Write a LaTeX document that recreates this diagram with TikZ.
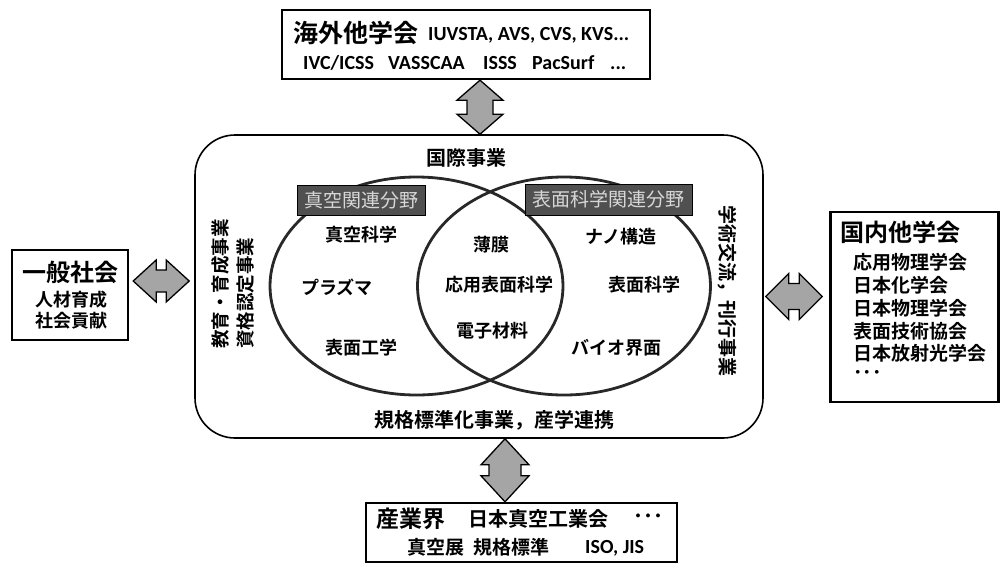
\documentclass[tikz,border=0pt]{standalone}
\usepackage{fontspec}
\setmainfont{Noto Sans CJK JP}[BoldFont={Noto Sans CJK JP Bold}]
\newfontfamily\lat{Carlito}
\usetikzlibrary{calc}
\definecolor{arrowgray}{RGB}{165,165,165}
\definecolor{labelfill}{RGB}{80,80,80}
\definecolor{labeltext}{RGB}{215,215,215}
\definecolor{circline}{RGB}{40,40,40}
\newcommand\blockArrowV[5]{% top, bottom, head half, shaft half, head length
  \draw[blockarrow] let \p1=(#1), \p2=(#2) in
    (\x1,\y1) -- (\x1+#3pt,\y1-#5pt) -- (\x1+#4pt,\y1-#5pt) -- (\x1+#4pt,\y2+#5pt)
    -- (\x1+#3pt,\y2+#5pt) -- (\x1,\y2) -- (\x1-#3pt,\y2+#5pt) -- (\x1-#4pt,\y2+#5pt)
    -- (\x1-#4pt,\y1-#5pt) -- (\x1-#3pt,\y1-#5pt) -- cycle;}
\newcommand\blockArrowH[5]{% left, right, head half, shaft half, head length
  \draw[blockarrow] let \p1=(#1), \p2=(#2) in
    (\x1,\y1) -- (\x1+#5pt,\y1+#3pt) -- (\x1+#5pt,\y1+#4pt) -- (\x2-#5pt,\y1+#4pt)
    -- (\x2-#5pt,\y1+#3pt) -- (\x2,\y1) -- (\x2-#5pt,\y1-#3pt) -- (\x2-#5pt,\y1-#4pt)
    -- (\x1+#5pt,\y1-#4pt) -- (\x1+#5pt,\y1-#3pt) -- cycle;}
\begin{document}
\begin{tikzpicture}[x=1pt,y=-1pt,
  box/.style={draw, line width=2.4pt, fill=white, inner sep=0pt},
  jt/.style={inner sep=0pt, font=\bfseries\fontsize{#1}{#1}\selectfont},
  lt/.style={inner sep=0pt, font=\lat\bfseries\fontsize{#1}{#1}\selectfont},
  fieldlabel/.style={draw=black, line width=0.8pt, fill=labelfill, text=labeltext,
    inner sep=0pt, font=\fontsize{19}{19}\selectfont},
  circ/.style={draw=circline, line width=2.8pt},
  blockarrow/.style={draw=black, line width=1.3pt, fill=arrowgray, line join=miter}]
\useasboundingbox (0,0) rectangle (1001,565);
\fill[white] (0,0) rectangle (1001,565);

% main rounded box
\node[draw, line width=1.6pt, rounded corners=40pt, minimum width=568pt, minimum height=303pt, inner sep=0pt]
  (main) at (479,286.5) {};

% venn circles
\draw[circ] (416.5,286) ellipse [x radius=146.5, y radius=109];
\draw[circ] (564,286) ellipse [x radius=146.5, y radius=109];

\node[fieldlabel, minimum width=128pt, minimum height=30pt] (vaclab) at (361,200) {真空関連分野};
\node[fieldlabel, minimum width=167pt, minimum height=31pt] (surflab) at (608.5,199.5) {表面科学関連分野};

\node[jt=20] (intl) at (466,158) {国際事業};
\node[jt=18] (t1) at (361,235) {真空科学};
\node[jt=18] (t2) at (491,245) {薄膜};
\node[jt=18] (t3) at (621,237) {ナノ構造};
\node[jt=18] (t4) at (337,287) {プラズマ};
\node[jt=18] (t5) at (499,285) {応用表面科学};
\node[jt=18] (t6) at (644,285) {表面科学};
\node[jt=18] (t7) at (492,331) {電子材料};
\node[jt=18] (t8) at (361,348) {表面工学};
\node[jt=18] (t9) at (616,348) {バイオ界面};
\node[jt=20] (std) at (494,420) {規格標準化事業，産学連携};
\node[inner sep=0pt, font=\bfseries\fontsize{18.5}{25}\selectfont, rotate=90, align=left, anchor=west]
  (edu) at (232.5,349) {教育・育成事業\\資格認定事業};
\node[jt=19, rotate=-90] (acad) at (727,291) {学術交流，刊行事業};

% top box
\node[box, minimum width=368pt, minimum height=69pt] (overseas) at (466,44.5) {};
\node[jt=25, anchor=west] (ov1) at (293,33) {海外他学会};
\node[lt=20, anchor=base west] (ov2) at (428,40) {IUVSTA, AVS, CVS, KVS...};
\node[lt=20, anchor=base west] (ov3) at (303,69.5) {IVC/ICSS};
\node[lt=20, anchor=base west] (ov4) at (388,69.5) {VASSCAA};
\node[lt=20, anchor=base west] (ov5) at (483,69.5) {ISSS};
\node[lt=20, anchor=base west] (ov6) at (532,69.5) {PacSurf};
\node[lt=20, anchor=base west] (ov7) at (610,69.5) {...};

% left box
\node[box, minimum width=116pt, minimum height=90pt] (society) at (70,295) {};
\node[jt=24] (so1) at (70,272) {一般社会};
\node[jt=18] (so2) at (71,300) {人材育成};
\node[jt=18] (so3) at (71,321) {社会貢献};

% right box
\node[box, minimum width=168pt, minimum height=190pt] (domestic) at (914.5,307) {};
\node[jt=24, anchor=west] (do0) at (840,232) {国内他学会};
\node[jt=19, anchor=west] (do1) at (853,262) {応用物理学会};
\node[jt=19, anchor=west] (do2) at (853,285) {日本化学会};
\node[jt=19, anchor=west] (do3) at (853,308) {日本物理学会};
\node[jt=19, anchor=west] (do4) at (853,331) {表面技術協会};
\node[jt=19, anchor=west] (do5) at (853,353) {日本放射光学会};
\node[jt=19, anchor=west] (do6) at (853,375) {･･･};

% bottom box
\node[box, minimum width=311pt, minimum height=59pt] (industry) at (521.5,532.5) {};
\node[jt=23, anchor=west] (in1) at (376,519) {産業界};
\node[jt=20, anchor=west] (in2) at (468,519) {日本真空工業会};
\node[jt=20, anchor=west] (in3) at (633,519) {･･･};
\node[jt=19, anchor=west] (in4) at (407,547) {真空展};
\node[jt=19, anchor=west] (in5) at (473,547) {規格標準};
\node[lt=20, anchor=base west] (in6) at (585,553.5) {ISO, JIS};

% block arrows
\coordinate (ta) at ([xshift=14pt]overseas.south);
\coordinate (tb) at (ta |- main.north);
\blockArrowV{ta}{tb}{23}{13}{20}
\coordinate (ba) at ([xshift=26pt]main.south);
\coordinate (bb) at (ba |- industry.north);
\blockArrowV{ba}{bb}{24}{16}{26}
\coordinate (la) at ([xshift=4pt,yshift=14pt]society.east);
\coordinate (lb) at ([xshift=-5pt]la -| main.west);
\blockArrowH{la}{lb}{21}{11}{23}
\coordinate (ra) at ([xshift=2pt,yshift=-10pt]main.east);
\coordinate (rb) at ([xshift=-7pt]ra -| domestic.west);
\blockArrowH{ra}{rb}{23}{13}{23}
\end{tikzpicture}
\end{document}
